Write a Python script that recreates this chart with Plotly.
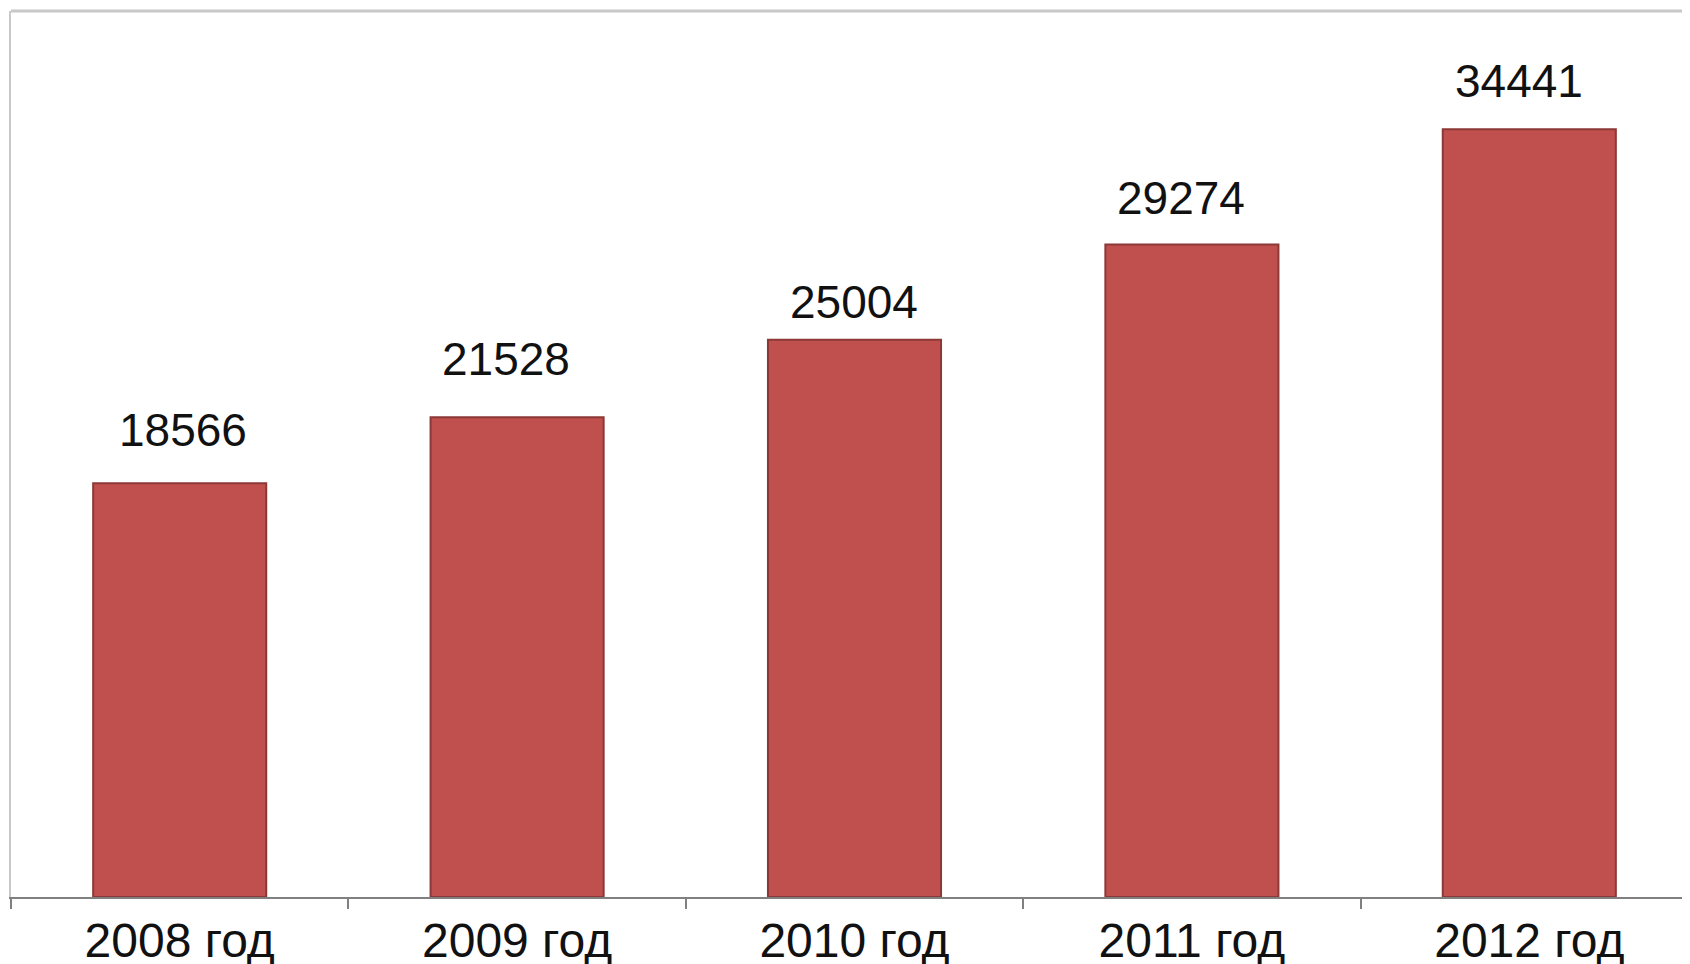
import plotly.graph_objects as go

categories = ["2008 год", "2009 год", "2010 год", "2011 год", "2012 год"]
values = [18566, 21528, 25004, 29274, 34441]
labels = ["18566", "21528", "25004", "29274", "34441"]

# styling: small manual nudges of the value labels, as in the original
label_dx = [3, -11, -1, -11, -10]
label_dy = [25, 30, 10, 19, 20]

FONT = "Liberation Sans, Arial, sans-serif"

fig = go.Figure()
fig.add_trace(go.Bar(
    x=categories, y=values,
    marker=dict(color="#C0504D", line=dict(color="#8C3836", width=2)),
    width=0.513,
    hoverinfo="skip",
))

for c, v, t, dx, dy in zip(categories, values, labels, label_dx, label_dy):
    fig.add_annotation(x=c, y=v, text=t, showarrow=False, yanchor="bottom",
                       xshift=dx, yshift=dy,
                       font=dict(family=FONT, size=46, color="#111111"))

# page body has an 8px default margin, so margins are reduced accordingly
fig.update_layout(
    width=1690, height=964,
    margin=dict(l=3, r=0, t=3, b=75, autoexpand=False),
    paper_bgcolor="white", plot_bgcolor="white",
    showlegend=False,
    font=dict(family=FONT, size=46, color="#111111"),
    xaxis=dict(
        type="category", range=[-0.5, 4.5], automargin=False,
        showline=True, linecolor="#808080", linewidth=2,
        ticks="outside", tickson="boundaries", ticklen=10, tickwidth=2, tickcolor="#808080",
        ticklabelstandoff=0,
        showgrid=False, tickfont=dict(family=FONT, size=48, color="#111111"),
    ),
    yaxis=dict(
        range=[0, 39750], showgrid=False, zeroline=False, automargin=False,
        showticklabels=False, ticks="",
        showline=True, linecolor="#C8C8C8", linewidth=2,
    ),
    shapes=[dict(type="line", xref="paper", yref="paper", x0=0, x1=1, y0=1, y1=1,
                 line=dict(color="#C8C8C8", width=3))],
)

fig.write_html("out.html")
